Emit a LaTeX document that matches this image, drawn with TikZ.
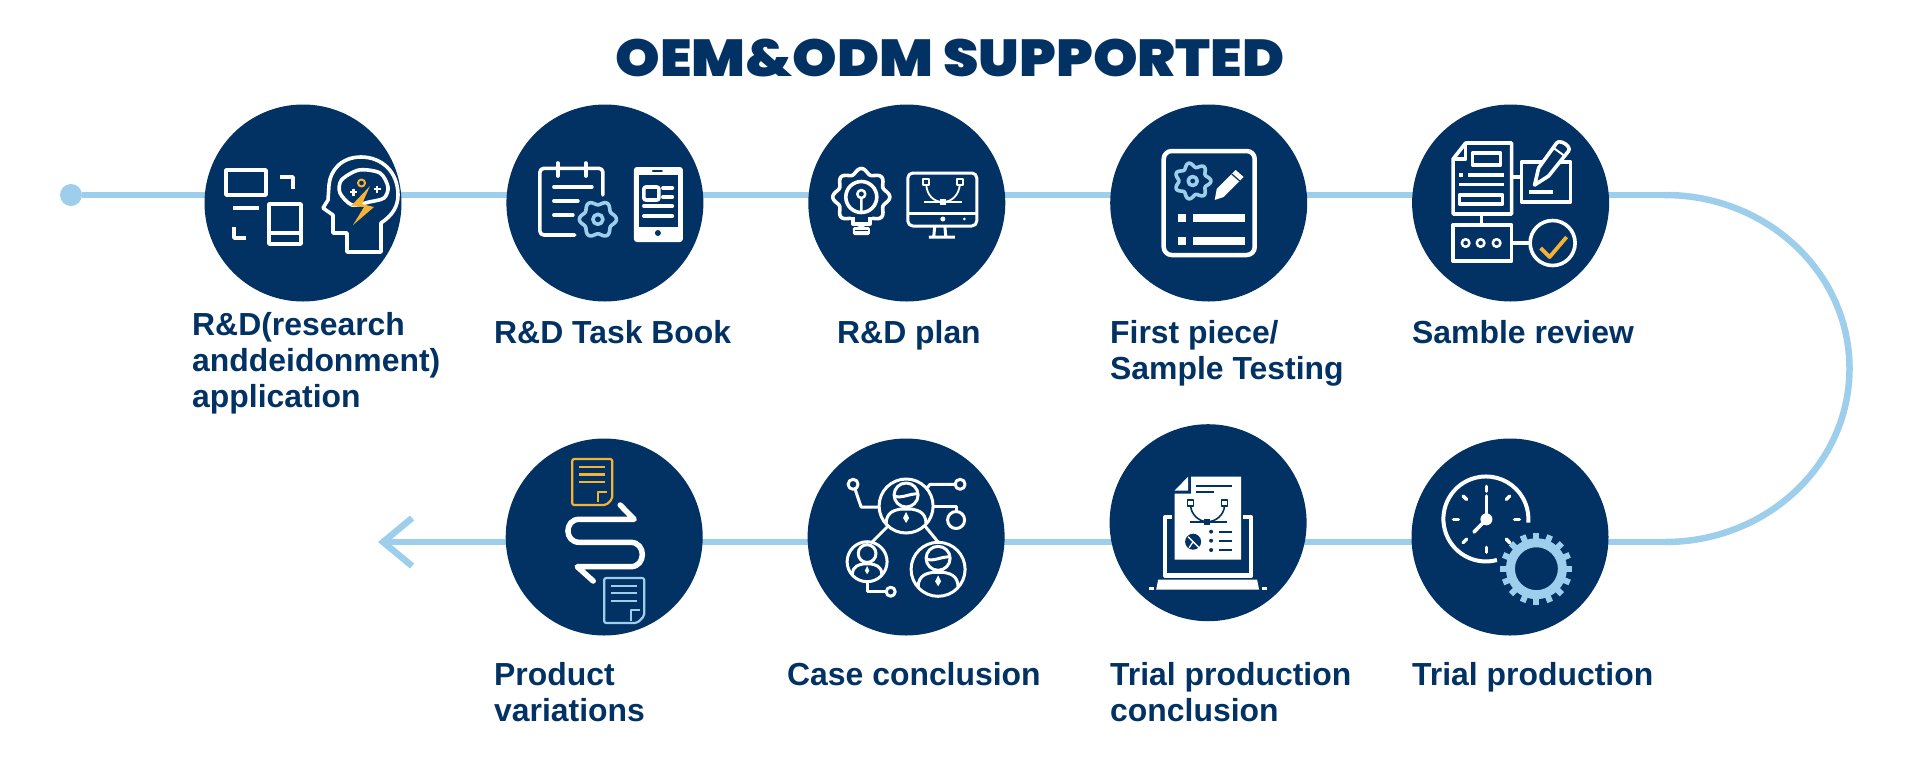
\documentclass[tikz,border=0pt]{standalone}
\usepackage{fontspec}
\setmainfont{Liberation Sans}
\newfontfamily\titlefont[FakeStretch=1.09]{Poppins Black}
\usepackage{tikz}
\usetikzlibrary{arrows.meta,positioning,backgrounds}
\definecolor{navy}{HTML}{023263}
\definecolor{skyline}{HTML}{9DCFEC}
\definecolor{amber}{HTML}{F5B335}
\tikzset{
  stepdisc/.style={circle,fill=navy,minimum size=197pt,inner sep=0pt},
  steplabel/.style={anchor=north west,inner sep=0pt,align=left,text=navy,
    font=\fontsize{31.9}{36}\selectfont\bfseries},
  flowline/.style={draw=skyline,line width=6.5pt},
  iconpen/.style={white,line width=3.6pt,line join=round}
}
% wavy outline of a small cog: x, y, radius, depth, teeth
\newcommand{\wavycog}[5]{%
  plot[domain=0:360,samples=145,smooth] ({#1+(#3+#4*cos(#5*\x))*cos(\x)},{#2+(#3+#4*cos(#5*\x))*sin(\x)}) -- cycle}
% round badge with a person inside: x, y, size
\newcommand{\personbadge}[3]{%
  \begin{scope}[shift={(#1,#2)},scale=#3]
    \draw (0,0) circle[radius=27];
    \draw (0,-11) circle[radius=12];
    \draw (-20,18) .. controls (-20,5) and (-10,4) .. (-5,3) -- (5,3) .. controls (10,4) and (20,5) .. (20,18);
    \fill (0,6) -- (3,12) -- (0,17) -- (-3,12) -- cycle;
  \end{scope}}
\begin{document}
\begin{tikzpicture}[x=1pt,y=-1pt]
  \useasboundingbox (0,0) rectangle (1921,756);

  % Title
  \node (title) [text=navy,font=\titlefont\fontsize{52}{60}\selectfont] at (950,58) {OEM\&ODM SUPPORTED};

  % Top row
  \node (application) [stepdisc] at (303,203) {};
  \node (taskbook) [stepdisc,right=104.5pt of application] {};
  \node (plan) [stepdisc,right=104.5pt of taskbook] {};
  \node (firstpiece) [stepdisc,right=104.5pt of plan] {};
  \node (samplereview) [stepdisc,right=104.5pt of firstpiece] {};

  % Bottom row
  \node (trialrun) [stepdisc] at (1510,537) {};
  \node (trialend) [stepdisc,left=104.5pt of trialrun,yshift=14.3pt] {};
  \node (caseend) [stepdisc,left=104.5pt of trialrun,xshift=-302pt] {};
  \node (variations) [stepdisc,left=104.5pt of caseend] {};

  % Line behind the discs
  \node (startdot) [circle,fill=skyline,minimum size=22pt,inner sep=0pt] at (71,195) {};
  \coordinate (bendtop) at (1665,195);
  \coordinate (bendlow) at (1665,542);
  \coordinate (arrowend) at (378,542);
  \begin{scope}[on background layer]
    \draw[flowline] (startdot) -- (application.center |- startdot);
    \foreach \from/\to in {application/taskbook,taskbook/plan,plan/firstpiece,firstpiece/samplereview}
      \draw[flowline] (\from.center |- startdot) -- (\to.center |- startdot);
    \draw[flowline] (samplereview.center |- startdot) -- (bendtop);
    \draw[flowline] (bendtop) arc[start angle=-90,end angle=90,x radius=184.5,y radius=173.5];
    \draw[flowline] (bendlow) -- (trialrun.center |- bendlow);
    \foreach \from/\to in {trialrun/trialend,trialend/caseend,caseend/variations}
      \draw[flowline] (\from.center |- bendlow) -- (\to.center |- bendlow);
    \draw[flowline,-{Straight Barb[length=29pt,width=48pt]}] (variations.center |- bendlow) -- (arrowend);
  \end{scope}

  % Labels
  \node (lapplication) [steplabel] at (192,309.7) {\strut R\&D(research\\anddeidonment)\\application};
  \node (ltaskbook) [steplabel] at (494,317.7) {\strut R\&D Task Book};
  \node (lplan) [steplabel] at (837,317.7) {\strut R\&D plan};
  \node (lfirstpiece) [steplabel] at (1110,317.7) {\strut First piece/\\Sample Testing};
  \node (lsamplereview) [steplabel] at (1412,317.7) {\strut Samble review};
  \node (lvariations) [steplabel] at (494,659.7) {\strut Product\\variations};
  \node (lcaseend) [steplabel] at (787,659.7) {\strut Case conclusion};
  \node (ltrialend) [steplabel] at (1110,659.7) {\strut Trial production\\conclusion};
  \node (ltrialrun) [steplabel] at (1412,659.7) {\strut Trial production};

  % Screens and head
  \begin{scope}[shift={(application.center)},iconpen]
    \draw (-77,-33) rectangle (-37,-8);
    \draw (-23,-26) -- (-10,-26) -- (-10,-14);
    \draw (-70,5) -- (-44,5);
    \draw (-69,24) -- (-69,35) -- (-57,35);
    \draw (-34,1) rectangle (-2,41);
    \draw (-34,30) -- (-2,30);
    \draw (78,49) -- (78,20) .. controls (90,12) and (95,3) .. (95,-8) .. controls (95,-32) and (78,-46) .. (58,-46)
      .. controls (38,-46) and (27,-32) .. (26,-18) -- (25,-3) -- (20,5) -- (30,12) -- (30,30) -- (44,30) -- (44,49) -- cycle;
    \draw plot[smooth cycle] coordinates {(37,-10) (38.5,-23) (56,-33) (77,-30) (85,-16) (81,-5) (66,-1) (49,2)};
    \fill[amber] (67,-17) -- (48,3) -- (61,4) -- (50,22) -- (71,4) -- (59,1) -- cycle;
    \draw[amber,line width=2pt] (58.5,-20) circle[radius=3.5];
    \draw[line width=2.2pt] (47,-11) -- (54,-11) (50.5,-14.5) -- (50.5,-7.5);
    \draw[line width=2.2pt] (70.5,-14) -- (77.5,-14) (74,-17.5) -- (74,-10.5);
  \end{scope}

  % Task sheet and phone
  \begin{scope}[shift={(taskbook.center)},iconpen,line cap=round]
    \draw[rounded corners=4pt] (-30,32) -- (-65,32) -- (-65,-34.7) -- (-2,-34.7) -- (-2,-8);
    \draw (-47,-40) -- (-47,-27);
    \draw (-19,-40) -- (-19,-27);
    \draw (-51,-16) -- (-13,-16);
    \draw (-51,-2) -- (-27,-2);
    \draw (-51,12) -- (-32,12);
    \draw[skyline] \wavycog{-7}{16.3}{16.5}{2}{6};
    \draw[skyline] (-7,16.3) circle[radius=5];
    \fill[rounded corners=3pt] (29,-36) rectangle (78,39);
    \fill[navy] (34,-28) rectangle (73,24);
    \draw[navy,line width=2pt] (48,-32) -- (57,-32);
    \fill[navy] (53,30) circle[radius=3];
    \draw[rounded corners=2pt] (39,-16) rectangle (54,-3);
    \draw (58,-15) -- (67.5,-15);
    \draw (58,-6) -- (67.5,-6);
    \draw (39,3) -- (67.5,3);
    \draw (39,13) -- (67.5,13);
  \end{scope}

  % Bulb cog and monitor
  \begin{scope}[shift={(plan.center)},iconpen]
    \draw \wavycog{-45.5}{-6}{26}{2.5}{8};
    \draw (-45.5,-6) circle[radius=15.5];
    \draw[line width=2.5pt] (-45.5,-9) circle[radius=4] (-45.5,-5) -- (-45.5,9);
    \fill[navy] (-56,12) rectangle (-35,22);
    \draw (-54,14) -- (-54,21) -- (-37,21) -- (-37,14);
    \fill[rounded corners=1.5pt] (-54,24) rectangle (-37,32);
    \draw[navy,line width=1.2pt] (-52,27.5) -- (-39,27.5);
    \draw[line width=3pt,rounded corners=5pt] (1,-30) rectangle (70,23);
    \draw[line width=3pt] (1,10) -- (70,10);
    \draw[line width=3pt] (28,23) -- (27,33) (38,23) -- (39,33) (22,34) -- (48,34);
    \fill (36,16) circle[radius=2.5];
    \fill (57.5,16) circle[radius=1.5];
    \draw[line width=1.8pt] (19.5,-18) .. controls (20,-8) and (27,-1) .. (36,-1) .. controls (45,-1) and (52,-8) .. (53,-18);
    \draw[line width=1.8pt] (17,-1) -- (55,-1);
    \draw[line width=1.8pt] (16.5,-24) rectangle (22.5,-18);
    \draw[line width=1.8pt] (50,-24) rectangle (56,-18);
    \fill (33,-4) rectangle (39,2);
  \end{scope}

  % Test sheet with pencil
  \begin{scope}[shift={(firstpiece.center)},iconpen]
    \draw[line width=4.5pt,rounded corners=8pt] (-45,-52) rectangle (46,52);
    \draw[skyline] \wavycog{-16}{-22}{16}{2.2}{7};
    \draw[skyline] (-16,-22) circle[radius=4.5];
    \fill (6,-3) -- (8,-14) -- (27,-33) -- (35,-26) -- (15,-6) -- cycle;
    \draw[navy,line width=1.2pt] (23,-29) -- (31,-22);
    \fill (-30.4,11) rectangle (-22.8,19);
    \fill (-16,11) rectangle (36,19);
    \fill (-30.4,34) rectangle (-22.8,42);
    \fill (-16,34) rectangle (36,42);
  \end{scope}

  % Review chart
  \begin{scope}[shift={(samplereview.center)},iconpen]
    \draw (-45,-60) -- (1,-60) -- (1,11) -- (-57.5,11) -- (-57.5,-44) -- cycle;
    \draw (-45,-60) -- (-45,-44) -- (-57.5,-44);
    \draw (-38,-50) rectangle (-10,-38);
    \fill (-52,-30) rectangle (-48,-26);
    \fill (-43,-30) rectangle (-7,-26);
    \fill (-52,-20) rectangle (-7,-17);
    \draw (-51,-8) rectangle (-8,1);
    \draw (1,-26) -- (11,-26);
    \draw (11,-41) rectangle (60,-1);
    \draw (18.5,-11) -- (42,-11);
    \fill[navy] (24,-18) -- (28,-35) -- (46,-62) -- (60,-54) -- (38,-26) -- cycle;
    \draw (24,-18) -- (28,-35) -- (46,-60) .. controls (49,-64) and (61,-57) .. (58,-52) -- (38,-27) -- cycle;
    \draw[line width=2pt] (43,-55) -- (54,-47);
    \draw (-29,11) -- (-29,22);
    \draw (-57.5,22) rectangle (1,58);
    \draw[line width=2.5pt] (-45,40) circle[radius=3.8];
    \draw[line width=2.5pt] (-30,40) circle[radius=3.8];
    \draw[line width=2.5pt] (-14,40) circle[radius=3.8];
    \draw (1,40) -- (20,40);
    \draw (42,40) circle[radius=22.5];
    \draw[amber,line width=3.8pt] (30,45) -- (39,54) -- (56,34);
  \end{scope}

  % Clock and cog
  \begin{scope}[shift={(trialrun.center)},iconpen,line cap=round]
    \draw[line width=4pt,line cap=butt] (-13.1,23) arc[start angle=75,end angle=365,radius=42.5];
    \foreach \tickangle in {0,45,...,315}
      \draw[line width=3.4pt] ([shift={(\tickangle:28)}]-23.6,-17.7) -- ([shift={(\tickangle:33)}]-23.6,-17.7);
    \fill (-23.6,-17.7) circle[radius=6];
    \draw (-23.6,-17.7) -- (-23.6,-41);
    \draw (-23.6,-17.7) -- (-36,-5);
    \draw[skyline,line width=9pt,line cap=butt] (26.4,31.7) circle[radius=26];
    \foreach \toothangle in {0,22.5,...,337.5}
      \draw[skyline,line width=6pt,line cap=butt] ([shift={(\toothangle:27)}]26.4,31.7) -- ([shift={(\toothangle:36)}]26.4,31.7);
  \end{scope}

  % Laptop with drawing sheet
  \begin{scope}[shift={(trialend.center)},iconpen]
    \draw[line width=4.5pt] (-35.7,-5.5) -- (-43,-5.5) -- (-43,53) -- (43,53) -- (43,-5.5) -- (35,-5.5);
    \fill (-50,57) -- (49,57) -- (51,67) -- (-52,67) -- cycle;
    \draw[line width=2.5pt] (-59,66) -- (-54,66) (54,66) -- (59,66);
    \fill (-17,-46) -- (33,-46) -- (33,37) -- (-33.6,37) -- (-33.6,-29) -- (-17,-29) -- cycle;
    \fill (-33.6,-32) -- (-20,-46) -- (-20,-32) -- cycle;
    \begin{scope}[navy,line width=1.6pt]
      \draw (-12,-36.7) -- (24,-36.7);
      \draw (-12,-30.7) -- (6,-30.7);
      \draw (-17.5,-17) .. controls (-17,-8) and (-9,-1) .. (-0.7,-1) .. controls (8,-1) and (16,-8) .. (16.4,-17);
      \draw (-18.5,-0.5) -- (19,-0.5);
      \draw (-20.5,-23) rectangle (-14.5,-17);
      \draw (13.4,-23) rectangle (19.4,-17);
      \fill (-3.7,-4) rectangle (2.3,2);
      \fill (-15,19) circle[radius=8];
      \draw[white,line width=1.3pt] (-20,14) -- (-9,25) (-15,19) -- (-19,25);
      \fill (3,9) circle[radius=2];
      \fill (3,18) circle[radius=2];
      \fill (3,27.3) circle[radius=2];
      \draw (10.7,9) -- (24.3,9);
      \draw (10.7,18) -- (24.3,18);
      \draw (10.7,27.3) -- (24.3,27.3);
    \end{scope}
  \end{scope}

  % People network
  \begin{scope}[shift={(caseend.center)},iconpen,line width=3pt]
    \personbadge{0}{-31}{1}
    \personbadge{-39}{24.7}{0.74}
    \personbadge{32}{32.3}{1}
    \draw (-17,-12) -- (-34,5);
    \draw (18,-12) -- (32,5);
    \draw (-53,-52.7) circle[radius=5];
    \draw (-51,-47.7) -- (-45,-30) -- (-27,-30);
    \draw (54,-52.7) circle[radius=5];
    \draw (49,-52.7) -- (24,-52.7) -- (20,-48);
    \draw (50,-17) circle[radius=8.5];
    \draw (50,-25.5) -- (50,-31) -- (27,-31);
    \draw (-39,44.7) -- (-39,54.7) -- (-20,54.7);
    \draw (-15.4,54.7) circle[radius=4.5];
    \draw (-12,-41) .. controls (-4,-38) and (4,-44) .. (12,-43);
    \draw (20,22) .. controls (28,25) and (36,19) .. (44,20);
  \end{scope}

  % Swap of two sheets
  \begin{scope}[shift={(variations.center)},iconpen]
    \draw[amber,line width=2.2pt,rounded corners=2pt] (-32,-78) -- (8,-78) -- (8,-38) -- (2,-32) -- (-32,-32) -- cycle;
    \draw[amber,line width=2.2pt] (-25,-70) -- (1,-70) (-25,-62.5) -- (1,-62.5) (-25,-55) -- (1,-55);
    \draw[amber,line width=2.2pt] (-6,-35) -- (-6,-45) -- (3,-45);
    \draw[line width=5.5pt,line cap=round] (16,-32) -- (30,-17.7) -- (-25,-17.7) .. controls (-40,-17.7) and (-40,5.3) .. (-25,5.3)
      -- (26.5,5.3) .. controls (42,5.3) and (42,29.7) .. (26.5,29.7) -- (-27,29.7) -- (-11,44);
    \draw[skyline,line width=2.2pt,rounded corners=2pt] (0,41) -- (40,41) -- (40,79) -- (33,86) -- (0,86) -- cycle;
    \draw[skyline,line width=2.2pt] (7,49) -- (33,49) (7,56) -- (33,56) (7,64) -- (33,64);
    \draw[skyline,line width=2.2pt] (27,84) -- (27,73) -- (36,73);
  \end{scope}
\end{tikzpicture}
\end{document}
